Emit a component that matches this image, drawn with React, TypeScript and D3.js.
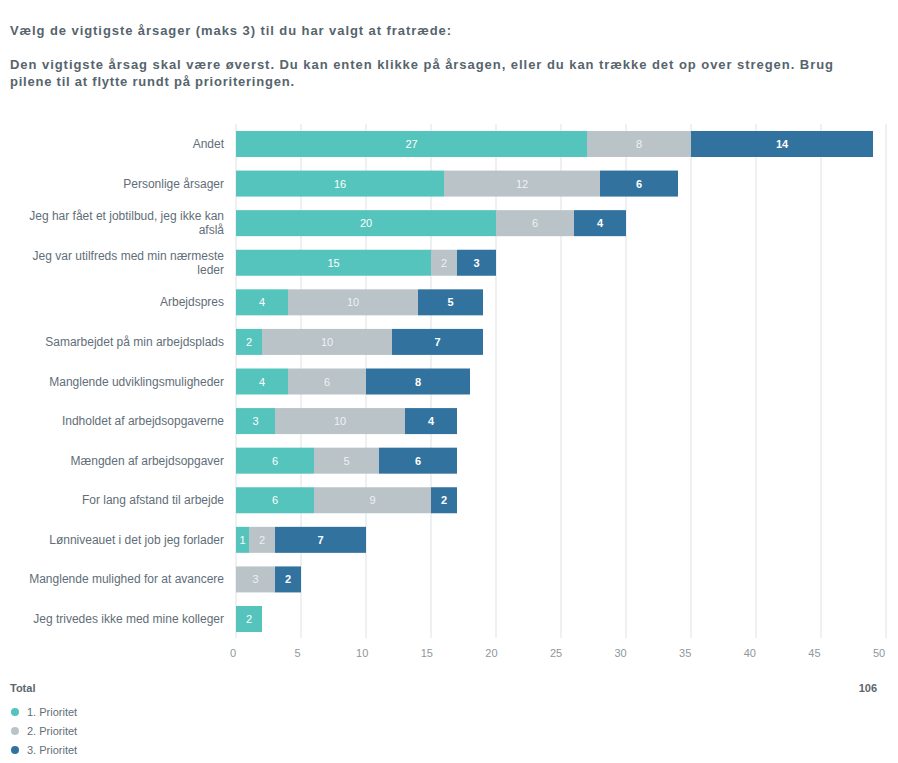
import React from "react";
import * as d3 from "d3";

const categories = [
  ["Andet"],
  ["Personlige årsager"],
  ["Jeg har fået et jobtilbud, jeg ikke kan", "afslå"],
  ["Jeg var utilfreds med min nærmeste", "leder"],
  ["Arbejdspres"],
  ["Samarbejdet på min arbejdsplads"],
  ["Manglende udviklingsmuligheder"],
  ["Indholdet af arbejdsopgaverne"],
  ["Mængden af arbejdsopgaver"],
  ["For lang afstand til arbejde"],
  ["Lønniveauet i det job jeg forlader"],
  ["Manglende mulighed for at avancere"],
  ["Jeg trivedes ikke med mine kolleger"],
];
const prio1 = [27, 16, 20, 15, 4, 2, 4, 3, 6, 6, 1, 0, 2];
const prio2 = [8, 12, 6, 2, 10, 10, 6, 10, 5, 9, 2, 3, 0];
const prio3 = [14, 6, 4, 3, 5, 7, 8, 4, 6, 2, 7, 2, 0];
const seriesNames = ["1. Prioritet", "2. Prioritet", "3. Prioritet"];
const colors = ["#55c4bd", "#bac3c8", "#31729e"];
const xTicks = [0, 5, 10, 15, 20, 25, 30, 35, 40, 45, 50];
const title = "Vælg de vigtigste årsager (maks 3) til du har valgt at fratræde:";
const subtitle = [
  "Den vigtigste årsag skal være øverst. Du kan enten klikke på årsagen, eller du kan trække det op over stregen. Brug",
  "pilene til at flytte rundt på prioriteringen.",
];
const titleWidth = 441;
const subtitleWidths = [823, 284];
const totalValue = "106";

export default function App() {
  const W = 898, H = 763;
  const font = "'Liberation Sans', Arial, sans-serif";
  const x = d3.scaleLinear().domain([0, 50]).range([236, 886]);
  const y = d3
    .scaleBand<number>()
    .domain(d3.range(categories.length))
    .range([124.2, 638.8])
    .paddingInner(0.343)
    .paddingOuter(0.1715);
  const series = [prio1, prio2, prio3];
  const textColor = "#5f6e78";
  const headColor = "#56646d";

  return (
    <svg width={W} height={H} style={{ position: "absolute", left: 0, top: 0, fontFamily: font }}>
      <rect width={W} height={H} fill="#fff" />
      <text x={10} y={35} fontSize={13} fontWeight="bold" fill={headColor} textLength={titleWidth} lengthAdjust="spacing">{title}</text>
      {subtitle.map((s, i) => (
        <text key={i} x={10} y={68.5 + i * 17} fontSize={13} fontWeight="bold" fill={headColor} textLength={subtitleWidths[i]} lengthAdjust="spacing">{s}</text>
      ))}
      {xTicks.map((t) => (
        <g key={t}>
          <line x1={x(t)} x2={x(t)} y1={124} y2={638} stroke="#e3e6e8" strokeWidth={1.2} />
          <text x={x(t) - 3 - t * 0.08} y={657} fontSize={11} fill="#8e979c" textAnchor="middle">{t}</text>
        </g>
      ))}
      {categories.map((lines, i) => {
        const yc = (y(i) as number) + y.bandwidth() / 2;
        const cum = [0, series[0][i], series[0][i] + series[1][i]];
        return (
          <g key={i}>
            {lines.map((l, j) => (
              <text
                key={j}
                x={224}
                y={yc + 4 + (j - (lines.length - 1) / 2) * 14}
                fontSize={12}
                fill={textColor}
                textAnchor="end"
              >
                {l}
              </text>
            ))}
            {series.map((s, k) =>
              s[i] > 0 ? (
                <g key={k}>
                  <rect
                    x={x(cum[k])}
                    y={y(i)}
                    width={x(cum[k] + s[i]) - x(cum[k])}
                    height={y.bandwidth()}
                    fill={colors[k]}
                  />
                  <text
                    x={(x(cum[k]) + x(cum[k] + s[i])) / 2}
                    y={yc + 4}
                    fontSize={11}
                    fill={k === 1 ? "#eef1f2" : "#ffffff"}
                    fontWeight={k === 2 ? "bold" : "normal"}
                    textAnchor="middle"
                  >
                    {s[i]}
                  </text>
                </g>
              ) : null
            )}
          </g>
        );
      })}
      <text x={10} y={692} fontSize={11} fontWeight="bold" fill="#5a666e">Total</text>
      <text x={877} y={692} fontSize={11} fontWeight="bold" fill="#5a666e" textAnchor="end">{totalValue}</text>
      {seriesNames.map((n, i) => (
        <g key={n}>
          <circle cx={15} cy={712 + i * 19} r={4} fill={colors[i]} />
          <text x={27} y={716 + i * 19} fontSize={11} fill={textColor}>{n}</text>
        </g>
      ))}
    </svg>
  );
}
